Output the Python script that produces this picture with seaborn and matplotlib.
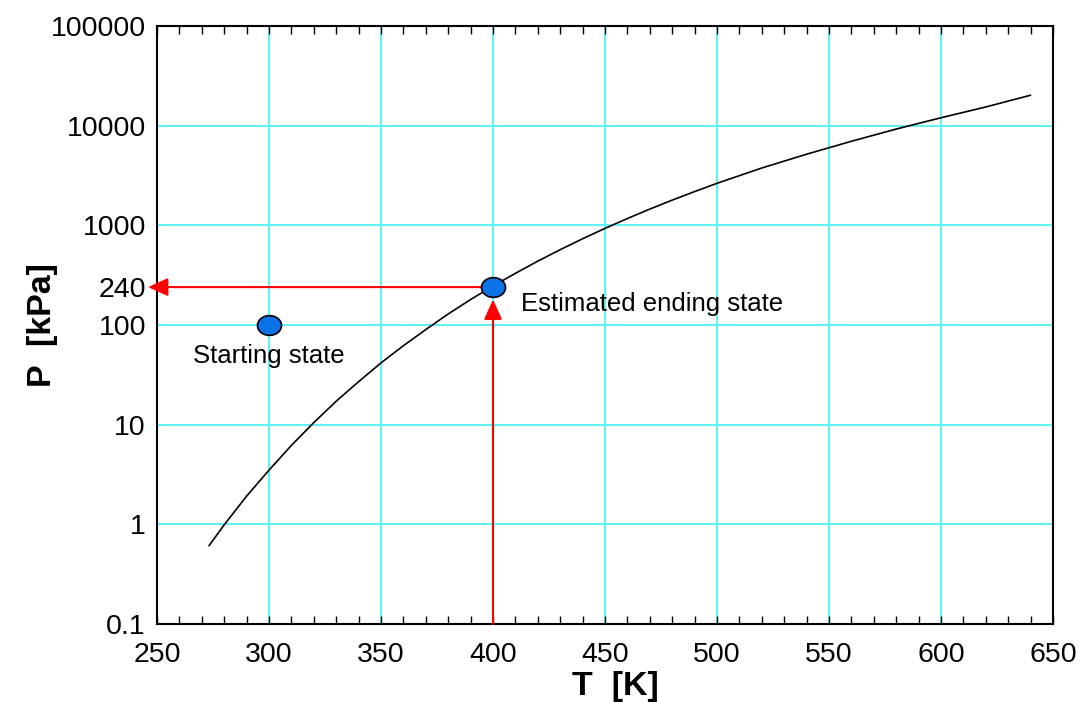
import numpy as np
import pandas as pd
import matplotlib
matplotlib.use("Agg")
import matplotlib.pyplot as plt
from matplotlib.path import Path
from matplotlib.ticker import FixedLocator, FixedFormatter, MultipleLocator, NullFormatter
import seaborn as sns

# Saturation curve of water: temperature [K] and pressure [kPa]
temperature_K = [273.2, 280, 290, 300, 310, 320, 330, 340, 350, 360, 370, 380,
                 390, 400, 410, 420, 430, 440, 450, 460, 470, 480, 490, 500,
                 520, 540, 560, 580, 600, 620, 640]
pressure_kPa = [0.61, 0.99, 1.92, 3.5, 6.2, 10.5, 17.2, 27.0, 41.7, 62.0, 90.0, 129.0,
                180.0, 246.0, 330.0, 437.0, 570.0, 733.0, 932.0, 1170.0, 1455.0, 1790.0, 2180.0, 2640.0,
                3760.0, 5170.0, 6970.0, 9240.0, 12000.0, 15400.0, 20200.0]

# Marked states
state_names = ["Starting state", "Estimated ending state"]
state_T = [300, 400]
state_P = [100, 240]

# Axis ticks
x_ticks = [250, 300, 350, 400, 450, 500, 550, 600, 650]
y_ticks = [0.1, 1, 10, 100, 1000, 10000, 100000]
y_tick_labels = ["0.1", "1", "10", "100", "1000", "10000", "100000"]
y_extra_tick = [240]
y_extra_label = ["240"]

sns.set_theme(style="white")
plt.rcParams["font.family"] = ["Liberation Sans", "DejaVu Sans"]
plt.rcParams["text.color"] = "black"
plt.rcParams["axes.labelcolor"] = "black"
plt.rcParams["xtick.color"] = "black"
plt.rcParams["ytick.color"] = "black"

fig = plt.figure(figsize=(10.8, 7.02), dpi=100)
ax = fig.add_axes([0.1454, 0.1111, 0.8296, 0.8519])

curve = pd.DataFrame({"T": temperature_K, "P": pressure_kPa})
sns.lineplot(data=curve, x="T", y="P", ax=ax, color="black", linewidth=1.2, zorder=3)

ax.set_yscale("log")
ax.set_xlim(250, 650)
ax.set_ylim(0.1, 100000)

# Grid on the major ticks only
ax.xaxis.set_major_locator(FixedLocator(x_ticks))
ax.xaxis.set_minor_locator(MultipleLocator(10))
ax.xaxis.set_minor_formatter(NullFormatter())
ax.yaxis.set_major_locator(FixedLocator(y_ticks))
ax.yaxis.set_major_formatter(FixedFormatter(y_tick_labels))
ax.yaxis.set_minor_locator(FixedLocator(y_extra_tick))
ax.yaxis.set_minor_formatter(FixedFormatter(y_extra_label))
ax.grid(True, which="major", color="#5CF2F2", linewidth=1.4, zorder=0)
ax.grid(False, which="minor")
ax.set_axisbelow(True)

ax.tick_params(axis="x", which="both", direction="in", top=True, bottom=True,
               color="black", width=1.0, labelsize=20.5, pad=13, labelcolor="black")
ax.tick_params(axis="x", which="major", length=6)
ax.tick_params(axis="x", which="minor", length=6)
ax.tick_params(axis="y", which="both", length=0, labelsize=20.5, pad=8, labelcolor="black")

for side in ax.spines.values():
    side.set_visible(True)
    side.set_color("black")
    side.set_linewidth(1.5)

ax.set_xlabel("T  [K]", fontsize=24.5, fontweight="bold", color="black")
ax.set_ylabel("P  [kPa]", fontsize=24.5, fontweight="bold", color="black")
ax.xaxis.set_label_coords(0.512, -0.078)
ax.yaxis.set_label_coords(-0.11, 0.5)

# Reading the ending state: arrow up from the T axis, arrow left to the P axis
arrow_style = dict(arrowstyle="-|>,head_length=0.55,head_width=0.25", color="red",
                   lw=1.5, mutation_scale=22, shrinkA=0)
ax.annotate("", xy=(state_T[1], state_P[1]), xytext=(state_T[1], 0.1),
            arrowprops=dict(arrow_style, shrinkB=9), zorder=4)
ax.annotate("", xy=(246, state_P[1]), xytext=(state_T[1], state_P[1]),
            arrowprops=dict(arrow_style, shrinkB=0), annotation_clip=False, zorder=4)

# Elliptical marker for the states
theta = np.linspace(0, 2 * np.pi, 60)
ellipse = Path(np.column_stack([np.cos(theta), 0.82 * np.sin(theta)]), closed=True)
states = pd.DataFrame({"T": state_T, "P": state_P, "name": state_names})
sns.scatterplot(data=states, x="T", y="P", ax=ax, marker=ellipse, s=300,
                color="#0B72E7", edgecolor="black", linewidth=1.2, zorder=5, legend=False)

ax.annotate(state_names[0], xy=(state_T[0], state_P[0]), xytext=(0, -14),
            textcoords="offset points", ha="center", va="top", fontsize=18.5, color="black")
ax.annotate(state_names[1], xy=(state_T[1], state_P[1]), xytext=(20, -12),
            textcoords="offset points", ha="left", va="center", fontsize=18.5, color="black")

fig.savefig("out.png", dpi=100)
